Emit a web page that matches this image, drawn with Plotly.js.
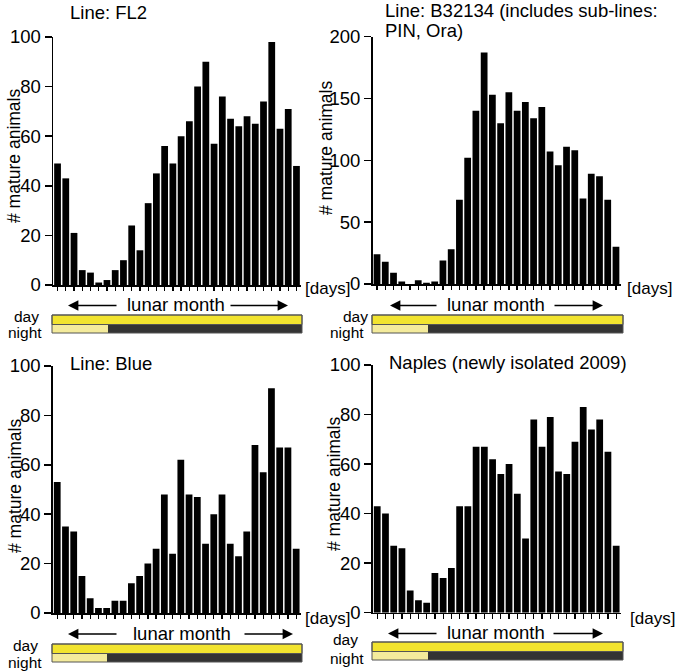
<!DOCTYPE html>
<html>
<head>
<meta charset="utf-8">
<script src="https://cdn.plot.ly/plotly-3.0.1.min.js"></script>
<style>
html,body{margin:0;padding:0;background:#fff;}
#chart{width:677px;height:671px;}
</style>
</head>
<body>
<div id="chart"></div>
<script>
// ---- data ----
const days = [1,2,3,4,5,6,7,8,9,10,11,12,13,14,15,16,17,18,19,20,21,22,23,24,25,26,27,28,29,30];
const fl2 = [49,43,21,6,5,1,2,6,10,24,14,33,45,56,49,60,66,80,90,57,76,67,64,68,65,74,98,63,71,48];
const b32134 = [24,18,9,2,0,3,1,2,19,28,68,102,140,187,153,130,155,140,147,134,143,107,96,111,108,69,89,87,68,30];
const blue = [53,35,33,15,6,2,2,5,5,12,15,20,26,48,24,62,48,47,28,40,48,28,23,33,68,57,91,67,67,26];
const naples = [43,40,27,26,9,5,4,16,14,18,43,43,67,67,62,56,60,48,30,78,67,79,57,56,69,83,74,78,65,27];
const panelTitles = ["Line: FL2", "Line: B32134 (includes sub-lines:", "PIN, Ora)", "Line: Blue", "Naples (newly isolated 2009)"];
const yTitle = "# mature animals";
const yMax = [100, 200, 100, 100];
const yStep = [20, 50, 20, 20];

// ---- layout helpers ----
const W = 677, H = 671;
const fx = p => p / W;
const fy = p => 1 - p / H;
const FONT = "Liberation Sans, Arial, Helvetica, sans-serif";

// panel frames in pixels: [xLeft, xRight, yTop, yBottom]
const frames = [
  [53, 301, 37, 285],
  [372.5, 620.5, 36.5, 284],
  [52.7, 300.7, 366, 613],
  [372.7, 620.7, 365, 612.7]
];
const series = [fl2, b32134, blue, naples];

const traces = [];
const layout = {
  width: W, height: H,
  margin: {l:0, r:0, t:0, b:0},
  paper_bgcolor: "#fff", plot_bgcolor: "rgba(0,0,0,0)",
  showlegend: false,
  bargap: 0.18,
  font: {family: FONT, color: "#000"},
  annotations: [],
  shapes: []
};

series.forEach((vals, i) => {
  const n = i === 0 ? "" : String(i + 1);
  traces.push({
    type: "bar", x: days, y: vals,
    xaxis: "x" + n, yaxis: "y" + n,
    marker: {color: "#000", line: {width: 0}},
    hoverinfo: "x+y"
  });
  const f = frames[i];
  layout["xaxis" + n] = {
    domain: [fx(f[0]), fx(f[1])],
    anchor: "y" + n,
    range: [0.45, 30.55],
    tickvals: days,
    showticklabels: false,
    ticks: "outside", ticklen: 4.5, tickwidth: 1.3, tickcolor: "#000",
    showline: true, linewidth: 1.5, linecolor: "#000",
    showgrid: false, zeroline: false, fixedrange: true
  };
  layout["yaxis" + n] = {
    domain: [fy(f[3]), fy(f[2])],
    anchor: "x" + n,
    range: [0, yMax[i]],
    dtick: yStep[i], tick0: 0,
    ticks: "outside", ticklen: 7, tickwidth: 1.5, tickcolor: "#000",
    tickfont: {size: 18.5, family: FONT, color: "#000"},
    showline: true, linewidth: 1.5, linecolor: "#000",
    showgrid: false, zeroline: false, fixedrange: true
  };
});

function ann(text, x, y, opts) {
  layout.annotations.push(Object.assign({
    text: text, x: fx(x), y: fy(y), xref: "paper", yref: "paper",
    showarrow: false, xanchor: "center", yanchor: "middle",
    font: {size: 18.5, family: FONT, color: "#000"}
  }, opts || {}));
}

// panel titles
ann(panelTitles[0], 68, 13, {xanchor: "left"});
ann(panelTitles[1], 383, 10.5, {xanchor: "left"});
ann(panelTitles[2], 383, 30.5, {xanchor: "left"});
ann(panelTitles[3], 68, 363.5, {xanchor: "left"});
ann(panelTitles[4], 387, 362, {xanchor: "left"});

// y-axis titles
[[14, 156], [326, 148], [15, 486], [334, 484]].forEach(p => {
  ann(yTitle, p[0], p[1], {textangle: -90, font: {size: 17.5, family: FONT, color: "#000"}});
});

// [days]
[[303, 288], [625, 288.5], [303, 618], [628, 618]].forEach(p => {
  ann("[days]", p[0], p[1], {xanchor: "left", font: {size: 17, family: FONT, color: "#000"}});
});

// lunar month labels and arrows: [textX, textY, leftHead, leftTail, rightTail, rightHead, arrowY]
const lunar = [
  [176, 304, 68, 118, 229, 288, 305.5],
  [496, 304, 390, 438, 553, 603, 305.5],
  [182, 633, 68, 118, 243, 293, 634],
  [496, 632, 388, 438, 552, 603, 633.5]
];
lunar.forEach(l => {
  ann("lunar month", l[0], l[1]);
  [[l[2], l[3]], [l[5], l[4]]].forEach(a => {
    layout.annotations.push({
      text: "", x: fx(a[0]), y: fy(l[6]), xref: "paper", yref: "paper",
      ax: a[1] - a[0], ay: 0, axref: "pixel", ayref: "pixel",
      showarrow: true, arrowhead: 2, arrowsize: 1.6, arrowwidth: 1.3, arrowcolor: "#000",
      standoff: 0, startstandoff: 0
    });
  });
});

// day/night bars: [x0, x1, lightEnd, yTop, yMid, yBottom]
const dn = [
  [52, 302, 108, 315, 324.5, 333],
  [372, 623, 428, 315, 324.5, 333],
  [52, 302, 107, 644, 653.5, 662],
  [372, 623, 428, 642, 651.5, 660]
];
function rect(x0, x1, y0, y1, fill, line) {
  layout.shapes.push({
    type: "rect", xref: "paper", yref: "paper",
    x0: fx(x0), x1: fx(x1), y0: fy(y1), y1: fy(y0),
    fillcolor: fill, line: line ? {color: line, width: 1} : {width: 0}, layer: "above"
  });
}
dn.forEach(d => {
  rect(d[0], d[1], d[3], d[4], "#f2e42f", null);
  rect(d[0], d[2], d[4], d[5], "#f4eb9c", null);
  rect(d[2], d[1], d[4], d[5], "#333333", null);
  rect(d[0], d[1], d[3], d[4], "rgba(0,0,0,0)", "#555");
  rect(d[0], d[1], d[3], d[5], "rgba(0,0,0,0)", "#555");
});

// day / night labels: [dayX, dayY, nightX, nightY]
const dnLabels = [
  [26, 316.5, 25, 332.5],
  [355, 317, 347, 332.5],
  [25, 645.5, 25, 662.5],
  [345, 639.5, 347, 658.5]
];
dnLabels.forEach(t => {
  ann("day", t[0], t[1], {font: {size: 15.5, family: FONT, color: "#000"}});
  ann("night", t[2], t[3], {font: {size: 15.5, family: FONT, color: "#000"}});
});

Plotly.newPlot("chart", traces, layout, {displayModeBar: false, staticPlot: true});
</script>
</body>
</html>
